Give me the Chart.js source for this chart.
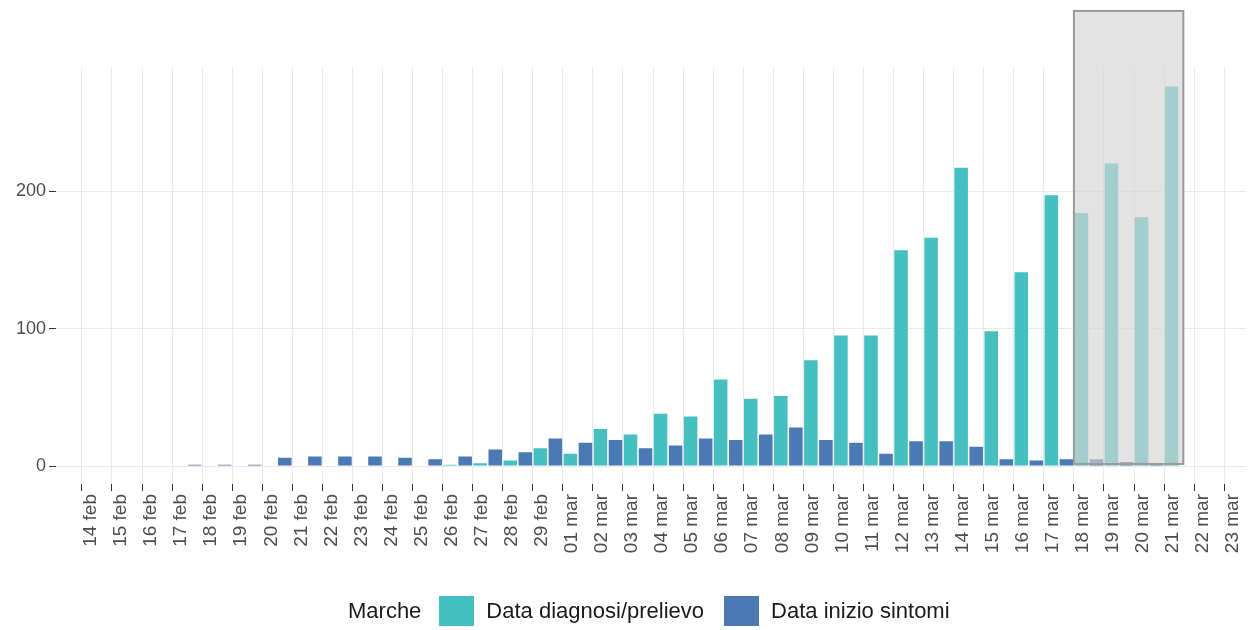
<!DOCTYPE html>
<html>
<head>
<meta charset="utf-8">
<script src="https://cdn.jsdelivr.net/npm/chart.js@4.4.1/dist/chart.umd.min.js"></script>
<style>
  html, body { margin: 0; padding: 0; background: #fff; }
  #wrap { position: relative; width: 1250px; height: 630px; }
  #legend {
    position: absolute; left: 348px; top: 596px; height: 30px;
    display: flex; align-items: center; white-space: nowrap;
    font-family: 'Liberation Sans', Arial, sans-serif; font-size: 22px; color: #1a1a1a;
  }
  #legend .sw { display: inline-block; width: 35px; height: 30px; margin-right: 12px; }
</style>
</head>
<body>
<div id="wrap">
  <canvas id="chart" width="1250" height="630"></canvas>
  <div id="legend"></div>
</div>
<script>
const dayLabels = [
  '14 feb', '15 feb', '16 feb', '17 feb', '18 feb', '19 feb', '20 feb', '21 feb',
  '22 feb', '23 feb', '24 feb', '25 feb', '26 feb', '27 feb', '28 feb', '29 feb',
  '01 mar', '02 mar', '03 mar', '04 mar', '05 mar', '06 mar', '07 mar', '08 mar',
  '09 mar', '10 mar', '11 mar', '12 mar', '13 mar', '14 mar', '15 mar', '16 mar',
  '17 mar', '18 mar', '19 mar', '20 mar', '21 mar', '22 mar', '23 mar'
];
const diagnosi = [0, 0, 0, 0, 0, 0, 0, 0, 0, 0, 0, 0, 1, 2, 4, 13,
  9, 27, 23, 38, 36, 63, 49, 51, 77, 95, 95, 157, 166, 217, 98, 141,
  197, 184, 220, 181, 276, 0, 0];
const sintomi = [0, 0, 0, 1, 1, 1, 6, 7, 7, 7, 6, 5, 7, 12, 10, 20,
  17, 19, 13, 15, 20, 19, 23, 28, 19, 17, 9, 18, 18, 14, 5, 4,
  5, 5, 3, 1, 0, 0, 0];
const yTicks = [0, 100, 200];
const legendTitle = 'Marche';
const seriesNames = ['Data diagnosi/prelievo', 'Data inizio sintomi'];
const seriesColors = ['#46bfc0', '#4a79b3'];

// grey box over the last (incomplete) days
const shadeFrom = '18 mar';
const shadeTo = '21 mar';

const font = "'Liberation Sans', Arial, sans-serif";

const shadeBox = {
  id: 'shadeBox',
  afterDatasetsDraw(chart) {
    const { ctx, scales: { x, y } } = chart;
    const left = x.getPixelForValue(dayLabels.indexOf(shadeFrom));
    const right = x.getPixelForValue(dayLabels.indexOf(shadeTo) + 0.64);
    const top = y.getPixelForValue(331);
    const bottom = y.getPixelForValue(1.5);
    ctx.save();
    ctx.fillStyle = 'rgba(212,212,212,0.66)';
    ctx.fillRect(left, top, right - left, bottom - top);
    ctx.strokeStyle = '#9a9a9a';
    ctx.lineWidth = 2;
    ctx.strokeRect(left, top, right - left, bottom - top);
    ctx.restore();
  }
};

const toPoints = arr => arr.map((v, i) => ({ x: i + 0.5, y: v }));

new Chart(document.getElementById('chart'), {
  type: 'bar',
  data: {
    datasets: [
      { label: seriesNames[0], data: toPoints(diagnosi), backgroundColor: seriesColors[0],
        borderWidth: 0, categoryPercentage: 1, barPercentage: 0.9 },
      { label: seriesNames[1], data: toPoints(sintomi), backgroundColor: seriesColors[1],
        borderWidth: 0, categoryPercentage: 1, barPercentage: 0.9 }
    ]
  },
  options: {
    responsive: false,
    animation: false,
    layout: { padding: { top: 68, right: 0, bottom: 0, left: 0 } },
    plugins: { legend: { display: false }, tooltip: { enabled: false } },
    scales: {
      x: {
        type: 'linear',
        offset: false,
        min: -0.862,
        max: 38.73,
        afterBuildTicks: axis => { axis.ticks = dayLabels.map((_, i) => ({ value: i })); },
        afterFit: axis => { axis.height = 146; },
        border: { display: false },
        grid: { offset: false, color: '#e9e9e9', lineWidth: 1, tickColor: '#333333', tickLength: 7, tickWidth: 1 },
        ticks: {
          autoSkip: false, minRotation: 90, maxRotation: 90, padding: 3, labelOffset: 9,
          color: '#4d4d4d', font: { family: font, size: 19 },
          callback: v => dayLabels[v]
        }
      },
      y: {
        min: -13,
        max: 289.5,
        afterBuildTicks: axis => { axis.ticks = yTicks.map(v => ({ value: v })); },
        afterFit: axis => { axis.width = 56; },
        border: { display: false },
        grid: { color: '#e9e9e9', lineWidth: 1, tickColor: '#333333', tickLength: 7, tickWidth: 1 },
        ticks: { padding: 3, color: '#4d4d4d', font: { family: font, size: 18 } }
      }
    }
  },
  plugins: [shadeBox]
});

// legend as html, ggplot style: title then keys inline
const legend = document.getElementById('legend');
const title = document.createElement('span');
title.textContent = legendTitle;
title.style.marginRight = '18px';
legend.appendChild(title);
seriesNames.forEach((name, i) => {
  const sw = document.createElement('span');
  sw.className = 'sw';
  sw.style.background = seriesColors[i];
  legend.appendChild(sw);
  const txt = document.createElement('span');
  txt.textContent = name;
  if (i < seriesNames.length - 1) txt.style.marginRight = '20px';
  legend.appendChild(txt);
});
</script>
</body>
</html>
